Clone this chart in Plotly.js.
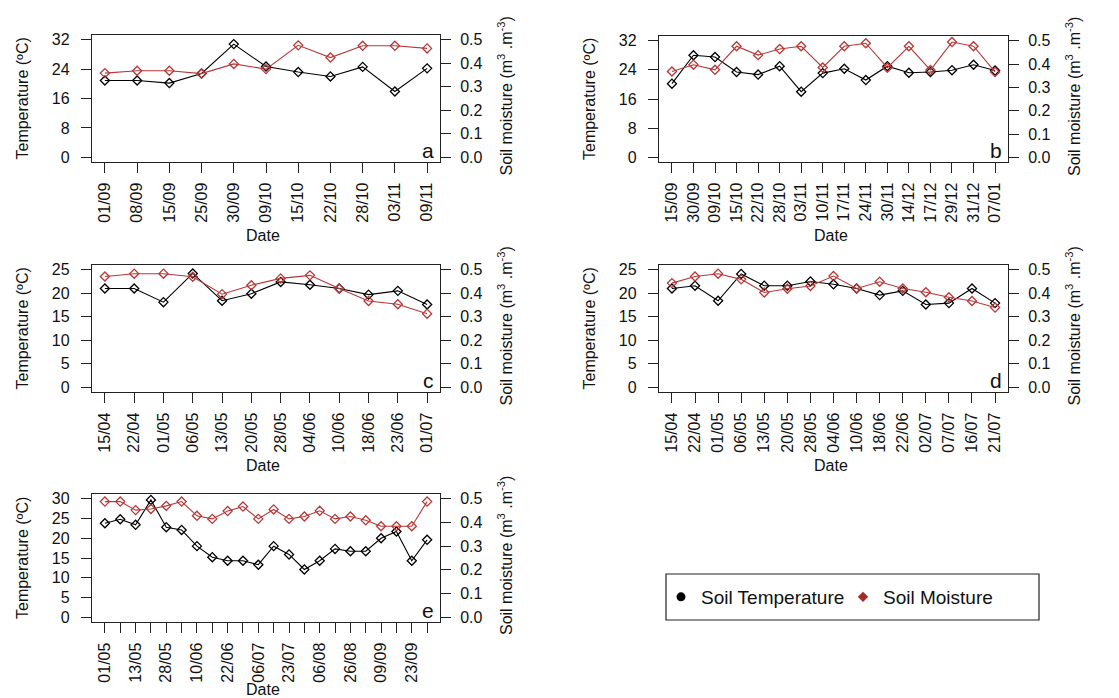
<!DOCTYPE html>
<html>
<head>
<meta charset="utf-8">
<script src="https://cdn.plot.ly/plotly-3.0.1.min.js"></script>
<style>
	body { margin: 0; background: white; }
	#chart { width: 1119px; height: 698px; }
</style>
</head>
<body>
<div id="chart"></div>
<script>
// panel a
var a_dates = ["01/09","08/09","15/09","25/09","30/09","09/10","15/10","22/10","28/10","03/11","09/11"];
var a_temp  = [20.9, 20.9, 20.2, 22.8, 30.8, 24.7, 23.2, 22.0, 24.6, 17.9, 24.2];
var a_moist = [0.358, 0.368, 0.368, 0.356, 0.397, 0.375, 0.476, 0.424, 0.474, 0.474, 0.463];

// panel b
var b_dates = ["15/09","30/09","09/10","15/10","22/10","28/10","03/11","10/11","17/11","24/11","30/11","14/12","17/12","29/12","31/12","07/01"];
var b_temp  = [20.2, 28.0, 27.5, 23.4, 22.7, 25.0, 18.0, 23.1, 24.3, 21.2, 25.0, 23.2, 23.4, 23.9, 25.4, 23.8];
var b_moist = [0.368, 0.397, 0.375, 0.476, 0.438, 0.464, 0.476, 0.385, 0.476, 0.489, 0.384, 0.476, 0.374, 0.494, 0.476, 0.366];

// panel c
var c_dates = ["15/04","22/04","01/05","06/05","13/05","20/05","28/05","04/06","10/06","18/06","23/06","01/07"];
var c_temp  = [21.0, 21.0, 18.1, 24.2, 18.4, 19.9, 22.4, 21.8, 21.0, 19.7, 20.5, 17.6];
var c_moist = [0.471, 0.483, 0.483, 0.470, 0.396, 0.434, 0.463, 0.476, 0.420, 0.367, 0.353, 0.313];

// panel d
var d_dates = ["15/04","22/04","01/05","06/05","13/05","20/05","28/05","04/06","10/06","18/06","22/06","02/07","07/07","16/07","21/07"];
var d_temp  = [21.0, 21.6, 18.4, 24.1, 21.6, 21.6, 22.5, 21.9, 21.0, 19.6, 20.5, 17.6, 17.9, 21.0, 17.9];
var d_moist = [0.443, 0.471, 0.483, 0.459, 0.403, 0.419, 0.431, 0.473, 0.420, 0.449, 0.420, 0.404, 0.383, 0.367, 0.339];

// panel e (only every other date is labelled)
var e_dates = ["01/05","","13/05","","28/05","","10/06","","22/06","","06/07","","23/07","","06/08","","26/08","","09/09","","23/09",""];
var e_temp  = [23.8, 24.8, 23.4, 29.7, 22.8, 22.1, 18.0, 15.2, 14.3, 14.3, 13.3, 18.0, 15.9, 12.1, 14.3, 17.3, 16.7, 16.7, 20.0, 21.7, 14.3, 19.6];
var e_moist = [0.488, 0.488, 0.452, 0.457, 0.470, 0.488, 0.428, 0.415, 0.448, 0.467, 0.415, 0.455, 0.415, 0.425, 0.449, 0.415, 0.425, 0.409, 0.384, 0.384, 0.384, 0.488];

var series_names = ["Soil Temperature", "Soil Moisture"];
var moist_ticks = [0, 0.1, 0.2, 0.3, 0.4, 0.5];

const W = 1119;
const H = 698;
const font_family = "Liberation Sans, Arial, sans-serif";
const text_color = "#111111";
const temp_color = "#000000";
const moist_color = "#b83838";

function px(x) { return x / W; }
function py(y) { return 1 - y / H; }

// box = [left, top, right, bottom] in pixels
var panels = [
	{dates: a_dates, temp: a_temp, moist: a_moist, letter: "a", box: [92, 35, 440, 162], tmax: 32, tstep: 8},
	{dates: b_dates, temp: b_temp, moist: b_moist, letter: "b", box: [659, 36, 1008, 162], tmax: 32, tstep: 8},
	{dates: c_dates, temp: c_temp, moist: c_moist, letter: "c", box: [92, 265, 440, 392], tmax: 25, tstep: 5},
	{dates: d_dates, temp: d_temp, moist: d_moist, letter: "d", box: [659, 265, 1008, 392], tmax: 25, tstep: 5},
	{dates: e_dates, temp: e_temp, moist: e_moist, letter: "e", box: [92, 494, 440, 622], tmax: 30, tstep: 5}
];

var traces = [];
var layout =
{
	width: W,
	height: H,
	margin: {l: 0, r: 0, t: 0, b: 0},
	paper_bgcolor: "white",
	plot_bgcolor: "rgba(0,0,0,0)",
	font: {family: font_family, size: 16, color: text_color},
	showlegend: true,
	legend: {
		orientation: "h",
		x: px(661),
		y: py(578),
		xanchor: "left",
		yanchor: "top",
		bgcolor: "rgba(0,0,0,0)",
		borderwidth: 0,
		entrywidth: 137,
		entrywidthmode: "pixels",
		font: {size: 19, color: text_color},
		itemclick: false
	},
	annotations: [],
	shapes: [{
		type: "rect",
		xref: "paper",
		yref: "paper",
		x0: px(666),
		x1: px(1039),
		y0: py(574),
		y1: py(620),
		line: {color: "#222", width: 1.2}
	}]
};

function note(text, x, y, size, angle, xanchor)
{
	layout.annotations.push({
		text: text,
		xref: "paper",
		yref: "paper",
		x: px(x),
		y: py(y),
		xanchor: xanchor || "center",
		yanchor: "middle",
		textangle: angle || 0,
		showarrow: false,
		font: {size: size, color: text_color}
	});
}

function add_panel(p, i)
{
	var n = i + 1;
	var xname = n == 1 ? "x" : "x" + n;
	var yl = 2 * n - 1 == 1 ? "y" : "y" + (2 * n - 1);
	var count = p.dates.length;
	var x = p.dates.map((d, k) => k + 1);
	var pad = 0.04 * (count - 1);

	// labelled ticks as major ticks, every date as a minor tick
	var label_vals = x.filter((v, k) => p.dates[k] != "");
	var label_text = p.dates.filter(d => d != "");

	var temp_ticks = [];
	for (var v = 0; v <= p.tmax; v += p.tstep)
	{
		temp_ticks.push(v);
	}

	traces.push({
		type: "scatter",
		mode: "lines+markers",
		x: x,
		y: p.temp,
		xaxis: xname,
		yaxis: yl,
		showlegend: false,
		line: {color: temp_color, width: 1.1},
		marker: {symbol: "diamond-open", size: 7, color: temp_color, line: {width: 1.3}},
		hoverinfo: "skip"
	});
	traces.push({
		type: "scatter",
		mode: "lines+markers",
		x: x,
		y: p.moist,
		xaxis: xname,
		yaxis: "y" + (2 * n),
		showlegend: false,
		line: {color: moist_color, width: 1.1},
		marker: {symbol: "diamond-open", size: 7, color: moist_color, line: {width: 1.3}},
		hoverinfo: "skip"
	});

	var [l, t, r, b] = p.box;

	layout[n == 1 ? "xaxis" : "xaxis" + n] = {
		domain: [px(l), px(r)],
		anchor: yl,
		range: [1 - pad, count + pad],
		tickmode: "array",
		tickvals: label_vals,
		ticktext: label_text,
		tickangle: -90,
		ticks: "outside",
		ticklen: 10,
		tickwidth: 1,
		tickcolor: "#222",
		ticklabelstandoff: 3,
		minor: {
			tickmode: "array",
			tickvals: x,
			ticks: "outside",
			ticklen: 10,
			tickwidth: 1,
			tickcolor: "#222",
			showgrid: false
		},
		showline: true,
		mirror: true,
		linecolor: "#222",
		linewidth: 1.2,
		showgrid: false,
		zeroline: false,
		fixedrange: true,
		tickfont: {size: 16}
	};
	layout[yl == "y" ? "yaxis" : "yaxis" + (2 * n - 1)] = {
		domain: [py(b), py(t)],
		anchor: xname,
		range: [-0.04 * p.tmax, p.tmax * 1.04],
		tickmode: "array",
		tickvals: temp_ticks,
		ticks: "outside",
		ticklen: 10,
		tickwidth: 1,
		tickcolor: "#222",
		ticklabelstandoff: 8,
		showline: true,
		mirror: true,
		linecolor: "#222",
		linewidth: 1.2,
		showgrid: false,
		zeroline: false,
		fixedrange: true,
		tickfont: {size: 16}
	};
	layout["yaxis" + (2 * n)] = {
		overlaying: yl,
		side: "right",
		anchor: xname,
		range: [-0.02, 0.52],
		tickmode: "array",
		tickvals: moist_ticks,
		tickformat: ".1f",
		ticks: "outside",
		ticklen: 10,
		tickwidth: 1,
		tickcolor: "#222",
		ticklabelstandoff: 6,
		showline: false,
		showgrid: false,
		zeroline: false,
		fixedrange: true,
		tickfont: {size: 16}
	};

	var mid = (t + b) / 2;
	note("Temperature (ºC)", l - 70, mid, 16, -90);
	note("Soil moisture (m<sup>3</sup> .m<sup>-3</sup>)", r + 65, mid - 2, 16, -90);
	note("Date", (l + r) / 2 - 3, Math.min(b + 73, 689), 16, 0);
	note(p.letter, r - 4, b - 12, 21, 0, "right");
}

panels.forEach(add_panel);

// legend entries
traces.push({
	type: "scatter",
	mode: "markers",
	x: [null],
	y: [null],
	name: series_names[0],
	marker: {symbol: "circle", size: 9, color: temp_color},
	hoverinfo: "skip"
});
traces.push({
	type: "scatter",
	mode: "markers",
	x: [null],
	y: [null],
	name: series_names[1],
	marker: {symbol: "diamond", size: 8, color: "#a52a2a"},
	hoverinfo: "skip"
});

Plotly.newPlot("chart", traces, layout, {staticPlot: true});
</script>
</body>
</html>
